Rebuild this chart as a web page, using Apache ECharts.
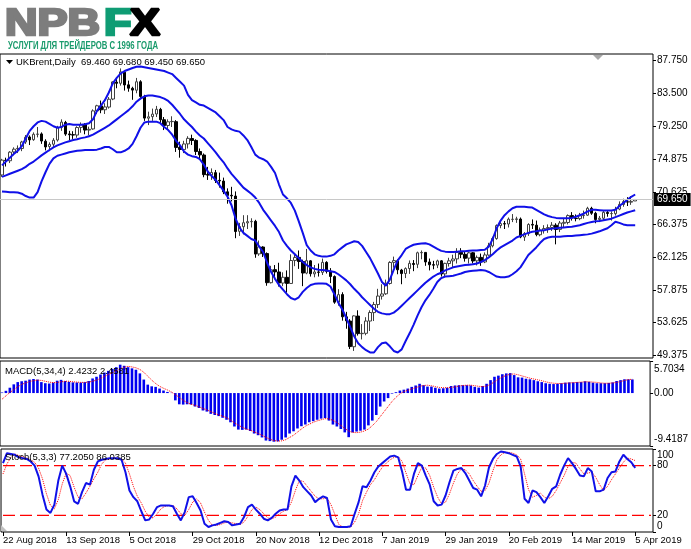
<!DOCTYPE html>
<html>
<head>
<meta charset="utf-8">
<script src="https://cdn.jsdelivr.net/npm/echarts@6/dist/echarts.min.js"></script>
<style>
html,body{margin:0;padding:0;background:#fff;}
#chart{width:691px;height:549px;}
</style>
</head>
<body>
<div id="chart"></div>
<script>
// UKBrent daily, 22 Aug 2018 .. 5 Apr 2019 (161 bars)
var opens=[72.85,74.75,74.70,75.85,76.25,76.30,77.15,77.80,77.45,78.15,
78.20,77.25,76.55,76.85,77.40,79.05,79.70,78.20,78.10,78.05,
79.05,79.40,78.70,78.85,81.20,81.85,81.35,81.70,82.75,84.95,
84.80,86.25,84.60,84.15,83.90,85.00,83.05,80.25,80.45,80.80,
81.40,80.05,79.30,79.80,79.80,76.45,76.15,76.90,77.60,77.35,
75.90,75.45,72.90,72.85,73.15,72.15,72.05,70.65,70.20,70.10,
65.50,66.10,66.60,66.75,66.80,62.55,63.45,62.60,58.80,60.50,
60.20,58.75,59.50,58.70,61.70,62.10,61.55,60.05,61.65,59.95,
60.20,60.15,61.45,60.30,59.60,56.25,57.25,54.35,53.80,50.45,
54.45,52.15,52.20,53.80,54.90,55.95,57.05,57.35,58.70,61.45,
61.65,60.45,60.00,60.65,61.30,61.20,62.70,62.75,61.50,61.15,
61.10,61.65,59.95,61.30,61.65,61.90,62.75,62.50,62.00,62.70,
61.65,62.10,61.50,62.40,63.60,64.55,66.25,66.50,66.45,67.05,
67.05,67.10,64.75,65.20,66.40,66.30,65.05,65.65,65.85,66.00,
66.30,65.75,66.55,66.65,67.55,67.20,67.15,67.55,67.60,68.50,
67.85,67.05,67.20,67.95,67.80,67.80,68.40,69.00,69.35,69.30,
69.46];
var closes=[74.78,74.73,75.82,76.21,76.31,77.14,77.77,77.42,78.15,78.17,
77.27,76.50,76.83,77.37,79.06,79.74,78.18,78.09,78.05,79.03,
79.40,78.70,78.80,81.20,81.87,81.34,81.72,82.72,84.98,84.80,
86.29,84.58,84.16,83.91,85.00,83.09,80.26,80.43,80.78,81.41,
80.05,79.29,79.78,79.83,76.44,76.17,76.89,77.62,77.34,75.91,
75.47,72.89,72.83,73.17,72.13,72.07,70.65,70.18,70.12,65.47,
66.12,66.62,66.76,66.79,62.53,63.48,62.60,58.80,60.48,60.21,
58.76,59.51,58.71,61.69,62.08,61.56,60.06,61.67,59.97,60.20,
60.15,61.45,60.28,59.61,56.26,57.24,54.35,53.82,50.47,54.47,
52.16,52.20,53.80,54.91,55.95,57.06,57.33,58.72,61.44,61.68,
60.48,59.99,60.64,61.32,61.18,62.70,62.74,61.50,61.14,61.09,
61.64,59.93,61.32,61.65,61.89,62.75,62.51,61.98,62.69,61.63,
62.10,61.51,62.42,63.61,64.57,66.25,66.50,66.45,67.08,67.07,
67.12,64.76,65.21,66.39,66.31,65.07,65.67,65.86,65.99,66.30,
65.74,66.58,66.67,67.55,67.23,67.16,67.54,67.61,68.50,67.86,
67.03,67.21,67.97,67.83,67.82,68.39,69.01,69.37,69.31,69.40,
69.65];
var lows=[72.60,73.95,74.40,75.40,75.70,75.95,76.90,76.75,77.30,77.75,
76.90,76.05,75.95,76.40,77.20,78.60,77.95,77.40,77.55,77.70,
78.35,78.15,78.00,78.75,80.80,80.90,80.80,81.50,82.60,84.15,
84.50,83.85,83.70,82.65,83.50,82.90,79.90,79.35,79.90,80.40,
79.50,78.70,78.80,79.10,75.85,75.10,75.70,76.30,76.75,75.45,
74.85,72.55,72.20,72.20,71.80,71.20,70.35,69.10,69.40,64.60,
64.90,65.10,65.80,66.00,62.05,62.30,62.15,58.40,58.70,59.25,
58.30,58.35,57.50,58.70,60.95,60.60,58.35,59.90,59.60,59.50,
59.60,59.80,60.00,58.75,56.05,55.80,53.85,52.80,50.15,49.90,
51.90,51.40,51.95,52.50,53.80,55.50,56.60,57.20,58.55,60.75,
59.90,58.60,59.40,59.95,60.30,60.70,61.85,61.00,60.40,60.55,
60.70,59.60,59.60,60.90,60.75,61.30,62.00,61.55,61.30,61.30,
61.05,61.00,61.35,62.30,63.40,64.40,65.90,65.80,66.00,66.70,
66.60,64.60,64.25,64.90,65.80,64.85,64.85,65.20,65.30,65.55,
63.80,65.40,66.05,66.40,66.90,66.80,66.95,67.15,67.50,67.65,
66.55,66.70,66.95,67.40,66.90,67.55,68.25,68.70,68.80,68.95,
69.45];
var highs=[74.95,75.10,75.95,76.45,76.70,77.30,78.05,78.00,78.40,79.10,
78.40,77.50,77.10,77.65,79.25,80.10,79.90,78.60,78.55,79.20,
79.70,79.60,79.15,81.40,82.00,82.55,82.20,83.00,85.05,85.35,
86.74,86.40,85.15,84.35,85.50,85.20,83.30,81.10,81.50,81.85,
81.60,80.40,80.10,80.50,80.00,77.20,77.30,77.90,78.10,77.50,
76.30,75.65,73.90,73.70,73.50,73.15,72.50,71.10,71.30,70.70,
66.60,67.60,67.60,67.20,67.00,64.30,63.55,62.75,61.00,61.10,
61.40,60.15,60.40,62.50,62.65,63.00,61.80,63.20,61.75,61.10,
61.30,61.95,61.60,60.70,59.75,57.95,57.55,55.00,54.05,54.55,
55.20,53.40,54.30,55.20,56.30,58.00,58.60,59.20,61.60,62.20,
61.85,60.60,60.80,61.70,61.75,62.85,63.00,62.80,61.95,61.65,
61.80,61.75,61.40,62.05,62.45,63.30,63.30,62.85,62.85,62.80,
62.35,62.60,62.75,64.00,64.80,66.40,66.85,66.85,67.30,67.75,
67.40,67.30,65.40,66.55,67.05,66.90,66.00,66.30,66.40,66.70,
66.55,66.85,67.10,67.70,68.00,67.70,67.90,68.20,68.70,68.70,
68.05,67.50,68.15,68.25,68.10,68.70,69.40,69.75,69.95,70.10,
69.68];

// Bollinger bands as drawn
var bbUpper=[74.1,74.6,75.1,75.6,76.0,76.6,77.6,78.6,79.2,79.7,
79.9,79.8,79.5,79.2,79.0,79.1,79.4,79.5,79.4,79.4,
79.4,79.45,79.6,80.1,81.2,81.9,82.6,83.6,84.8,85.5,
86.1,86.4,86.6,86.8,86.95,87.0,86.9,86.8,86.7,86.6,
86.5,86.4,86.2,86.0,85.5,85.0,84.5,83.3,82.6,82.3,
82.0,81.9,81.6,81.3,81.0,80.5,80.0,79.1,78.8,78.6,
78.5,78.0,77.4,76.5,75.5,75.1,74.9,74.6,73.9,73.1,
71.6,70.3,69.8,69.2,68.2,66.8,65.3,63.7,63.0,62.5,
62.3,62.2,62.2,62.3,62.5,63.0,63.4,63.8,64.0,64.2,
64.1,63.6,62.8,62.0,61.0,60.0,58.9,58.4,59.2,60.5,
61.7,62.4,63.2,63.5,63.75,63.85,63.9,63.95,63.8,63.5,
63.2,62.95,62.85,62.8,62.8,62.85,62.9,62.9,62.95,63.0,
63.0,63.05,63.1,63.5,64.5,65.9,66.9,67.6,68.1,68.5,
68.7,68.7,68.7,68.65,68.6,68.3,68.0,67.7,67.5,67.35,
67.25,67.2,67.2,67.2,67.25,67.4,67.6,67.8,68.1,68.3,
68.3,68.25,68.2,68.2,68.2,68.3,68.8,69.2,69.6,70.0,
70.3];
var bbMiddle=[72.6,72.8,73.0,73.2,73.4,73.6,73.9,74.3,74.6,75.0,
75.4,75.75,76.1,76.45,76.7,76.9,77.1,77.25,77.4,77.5,
77.65,77.75,77.9,78.1,78.4,78.7,79.0,79.3,79.7,80.1,
80.5,80.9,81.3,81.8,82.4,82.8,83.1,83.2,83.2,83.1,
83.0,82.8,82.5,82.0,81.4,80.8,80.1,79.6,79.1,78.5,
78.0,77.6,77.0,76.4,75.8,75.1,74.5,73.7,73.0,72.4,
71.8,71.2,70.8,70.4,69.9,69.2,68.3,67.6,66.9,66.2,
65.4,64.3,63.6,63.0,62.5,62.0,61.5,61.1,60.8,60.6,
60.5,60.45,60.4,60.3,60.2,59.9,59.5,59.1,58.6,58.0,
57.5,56.9,56.4,55.9,55.4,55.0,54.8,54.7,54.7,54.9,
55.3,55.8,56.3,56.8,57.3,57.8,58.3,58.8,59.2,59.6,
59.9,60.1,60.4,60.6,60.8,60.9,61.0,61.1,61.15,61.2,
61.3,61.5,61.75,62.1,62.5,63.0,63.4,63.7,64.0,64.3,
64.7,64.9,65.1,65.3,65.45,65.5,65.6,65.65,65.75,65.85,
65.9,65.95,66.0,66.05,66.1,66.2,66.3,66.45,66.6,66.7,
66.8,66.85,66.95,67.05,67.15,67.35,67.55,67.75,67.95,68.1,
68.25];
var bbLower=[70.7,70.65,70.6,70.6,70.55,70.4,70.1,69.9,69.9,70.6,
72.0,73.2,74.3,75.0,75.35,75.5,75.65,75.8,75.9,76.0,
76.05,76.1,76.1,76.1,76.15,76.3,76.5,76.5,76.2,75.8,
75.8,76.0,76.3,76.9,77.9,79.0,79.7,79.8,79.8,79.8,
79.6,79.1,78.7,78.1,77.3,76.7,75.9,75.5,75.3,75.2,
74.9,74.2,73.3,72.7,72.2,71.5,70.8,70.0,68.9,67.2,
66.0,65.3,64.9,64.5,64.3,63.5,62.8,61.4,60.2,59.3,
58.5,57.9,57.3,56.8,56.6,56.9,57.6,58.1,58.5,58.65,
58.7,58.7,58.65,58.3,57.3,56.2,55.3,54.2,53.0,51.8,
50.9,50.4,50.0,49.7,49.7,50.4,50.9,51.0,50.5,49.9,
49.7,50.1,51.2,52.2,53.3,54.5,55.6,56.5,57.2,58.0,
58.9,59.4,59.6,59.65,59.7,59.85,60.0,60.2,60.3,60.35,
60.4,60.45,60.4,60.2,59.9,59.6,59.5,59.5,59.6,59.9,
60.3,60.8,61.6,62.4,62.9,63.4,64.0,64.5,64.7,64.8,
64.8,64.8,64.85,64.9,64.9,64.95,65.0,65.05,65.1,65.2,
65.35,65.5,65.7,65.9,66.3,66.75,66.6,66.4,66.3,66.3,
66.3];

// MACD(5,34,4)
var macdHist=[0.1,0.4,0.95,1.55,1.95,2.1,2.2,2.4,2.5,2.4,
1.95,1.75,1.7,1.85,2.2,2.35,2.15,2.0,1.9,1.88,
1.87,1.95,2.15,2.6,2.9,3.3,3.65,3.95,4.3,4.6,
5.05,4.85,4.6,4.4,4.15,3.5,2.4,1.5,1.2,1.1,
0.8,0.45,0.2,0.05,-1.3,-2.0,-2.05,-2.0,-2.05,-2.4,
-2.65,-3.1,-3.3,-3.7,-3.9,-4.1,-4.4,-4.75,-5.2,-5.95,
-6.5,-6.55,-6.5,-6.75,-7.2,-7.5,-7.9,-8.45,-8.55,-8.65,
-8.6,-8.3,-7.9,-7.2,-6.8,-6.3,-5.9,-5.6,-5.2,-5.0,
-4.75,-4.55,-4.45,-4.9,-5.6,-5.95,-6.4,-7.0,-7.85,-7.0,
-6.85,-6.7,-6.5,-5.75,-4.9,-3.9,-2.4,-1.5,-0.9,-0.1,
0.15,0.45,0.6,0.8,1.1,1.35,1.65,1.4,1.15,1.15,
0.95,0.8,0.85,0.95,1.25,1.35,1.4,1.4,1.4,1.35,
1.1,0.97,1.25,1.65,2.3,2.9,3.1,3.35,3.5,3.55,
3.2,2.8,2.75,2.55,2.45,2.3,2.1,1.95,1.75,1.65,
1.6,1.65,1.75,1.85,1.9,1.9,1.95,1.95,2.1,2.0,
1.85,1.75,1.75,1.75,1.8,1.9,2.15,2.3,2.45,2.45,
2.4232];
var macdSignal=[-1.1,-0.5,0.1,0.6,1.1,1.55,1.8,2.05,2.2,2.3,
2.25,2.1,1.95,1.85,1.9,2.0,2.1,2.1,2.0,1.95,
1.9,1.9,1.95,2.1,2.3,2.6,2.95,3.3,3.6,3.95,
4.3,4.6,4.75,4.65,4.5,4.2,3.7,3.0,2.3,1.7,
1.2,0.85,0.55,0.2,-0.3,-0.75,-1.3,-1.7,-2.0,-2.2,
-2.45,-2.75,-3.0,-3.3,-3.6,-3.9,-4.1,-4.4,-4.8,-5.3,
-5.7,-6.1,-6.4,-6.6,-6.9,-7.2,-7.5,-7.9,-8.2,-8.45,
-8.55,-8.5,-8.3,-7.9,-7.5,-6.95,-6.4,-5.9,-5.55,-5.2,
-4.95,-4.75,-4.55,-4.6,-4.85,-5.25,-5.75,-6.3,-6.75,-7.0,
-7.05,-6.95,-6.75,-6.4,-5.8,-5.1,-4.2,-3.3,-2.4,-1.5,
-0.75,-0.15,0.25,0.5,0.75,0.95,1.2,1.35,1.4,1.3,
1.15,1.0,0.95,0.95,1.0,1.1,1.25,1.35,1.4,1.4,
1.3,1.2,1.15,1.25,1.55,2.0,2.45,2.85,3.15,3.35,
3.4,3.25,3.05,2.85,2.65,2.5,2.35,2.2,2.0,1.85,
1.75,1.7,1.7,1.75,1.8,1.85,1.9,1.95,2.0,2.0,
1.95,1.9,1.8,1.75,1.75,1.8,1.9,2.05,2.25,2.4,
2.4581];

// Stochastic(5,3,3)
var stochMain=[83,95,94,93,90,89,88,85,80,67,
45,27,23,33,62,80,70,55,37,34,
48,59,57,75,85,87,88,89,89,89,
87,72,50,42,37,25,14,15,22,30,
32,32,32,31,22,14,24,42,43,35,
26,10,6,8,9,11,13,12,8,9,
10,18,30,33,27,22,16,14,17,22,
26,27,27,55,68,62,54,49,44,36,
40,43,41,15,7,6,6,6,7,22,
36,55,54,62,72,79,83,87,91,92,
90,73,51,51,70,83,80,68,57,37,
32,33,44,60,74,76,77,71,62,53,
51,43,56,78,88,94,97,96,95,93,
91,79,40,35,50,48,42,35,43,52,
55,69,80,89,83,76,68,67,77,73,
49,49,51,65,72,73,85,93,88,84,
77.205];
var stochSignal=[70,82,90,94,92,91,89,87,84,77,
64,46,32,28,39,58,71,68,54,42,
40,47,55,64,72,82,87,88,89,89,
88,83,70,55,43,35,25,18,17,22,
28,31,32,32,28,22,20,27,36,40,
35,24,14,8,8,9,11,12,11,10,
9,12,19,27,30,27,22,17,16,18,
22,25,27,36,50,62,61,55,49,43,
40,40,41,33,21,9,6,6,6,12,
22,38,48,57,63,71,78,83,87,90,
91,85,71,58,57,68,78,77,68,54,
42,34,36,46,59,70,76,75,70,62,
55,49,50,59,74,87,93,96,96,95,
93,88,70,51,42,44,47,42,40,43,
50,59,68,79,84,83,76,70,71,72,
66,57,50,55,63,70,77,84,89,88,
86.0385];

var priceTicks=[87.750,83.500,79.250,74.875,70.625,66.375,62.125,57.875,53.625,49.375];
var macdTicks=[5.7034,0,-9.4187];
var stochTicks=[100,80,20,0];
var stochLevels=[80,20];
var dateTicks=['22 Aug 2018','13 Sep 2018','5 Oct 2018','29 Oct 2018','20 Nov 2018','12 Dec 2018','7 Jan 2019','29 Jan 2019','20 Feb 2019','14 Mar 2019','5 Apr 2019'];
var dateStep=16;
var lastPrice=69.65;

var FONT='Liberation Sans';
var BLUE='#1010e8';
var RED='#ff0000';
var SLOTS=165; // bars plus the empty shift on the right
var cats=[];
for(var i=0;i<SLOTS;i++){cats.push(String(i));}
var candles=[];
for(var i=0;i<opens.length;i++){
  candles.push([opens[i],closes[i],lows[i],highs[i]]);
}

function isDateTick(i){ return i%dateStep===0 && i/dateStep<dateTicks.length; }

// squeeze/stretch logo texts to the widths they have in the picture
var measureCtx=document.createElement('canvas').getContext('2d');
function fitScale(text,font,width){
  measureCtx.font=font;
  return width/measureCtx.measureText(text).width;
}
var LOGO_FONT='bold 36px "Liberation Sans"';
var TAG_FONT='bold 10px "Liberation Sans"';
var TAG_TEXT='УСЛУГИ ДЛЯ ТРЕЙДЕРОВ С 1996 ГОДА';
var logoScale=fitScale('NPB',LOGO_FONT,95);
var tagScale=fitScale(TAG_TEXT,TAG_FONT,150);

function hiddenX(g){
  return {type:'category',gridIndex:g,data:cats,boundaryGap:true,
    axisLine:{show:false},axisTick:{show:false},axisLabel:{show:false},splitLine:{show:false}};
}

// horizontal level lines of the stochastic window
var levelSeries=stochLevels.map(function(v){
  return {type:'line',xAxisIndex:2,yAxisIndex:2,symbol:'none',silent:true,z:2,
    data:cats.map(function(){return v;}),
    lineStyle:{color:RED,width:1.3,type:[12,5]}};
});

var xFx=new echarts.graphic.LinearGradient(0,1,1,0,[
  {offset:0,color:'#0f9c74'},{offset:0.42,color:'#0f9c74'},
  {offset:0.42,color:'#f39a26'},{offset:1,color:'#f39a26'}]);

var chart=echarts.init(document.getElementById('chart'));
var option={
  animation:false,
  backgroundColor:'#fff',
  grid:[
    {left:0,right:38,top:54,height:304,show:true,borderColor:'#000',borderWidth:1},
    {left:0,right:38,top:361,height:85,show:true,borderColor:'#000',borderWidth:1},
    {left:0,right:38,top:449,height:83,show:true,borderColor:'#000',borderWidth:1}
  ],
  xAxis:[
    hiddenX(0),
    hiddenX(1),
    {type:'category',gridIndex:2,data:cats,boundaryGap:true,
     axisLine:{show:false},
     axisTick:{show:true,alignWithLabel:true,length:4,lineStyle:{color:'#000'},
       interval:function(i){return isDateTick(i);}},
     axisLabel:{show:true,align:'left',margin:3,fontSize:9.5,color:'#000',fontFamily:FONT,
       interval:function(i){return isDateTick(i);},
       formatter:function(v){var i=parseInt(v,10);return isDateTick(i)?dateTicks[i/dateStep]:'';}},
     splitLine:{show:false}}
  ],
  yAxis:[
    {type:'value',gridIndex:0,position:'right',min:48.98,max:88.62,
     splitLine:{show:false},axisLine:{show:false},
     axisTick:{show:true,length:3,customValues:priceTicks,lineStyle:{color:'#000'}},
     axisLabel:{customValues:priceTicks,margin:4,fontSize:10,color:'#000',fontFamily:FONT,
       formatter:function(v){return v.toFixed(3);}}},
    {type:'value',gridIndex:1,position:'right',min:-9.4187,max:5.7034,
     splitLine:{show:false},axisLine:{show:false},
     axisTick:{show:true,length:3,customValues:macdTicks,lineStyle:{color:'#000'}},
     axisLabel:{customValues:macdTicks,margin:4,fontSize:10,color:'#000',fontFamily:FONT,
       formatter:function(v){
         if(v>1) return '{t|5.7034}';
         if(v<-1) return '{b|-9.4187}';
         return '0.00';
       },
       rich:{t:{padding:[16,0,0,0],fontSize:10,fontFamily:FONT,color:'#000'},
             b:{padding:[0,0,14,0],fontSize:10,fontFamily:FONT,color:'#000'}}}},
    {type:'value',gridIndex:2,position:'right',min:0,max:100,
     splitLine:{show:false},axisLine:{show:false},
     axisTick:{show:true,length:3,customValues:stochTicks,lineStyle:{color:'#000'}},
     axisLabel:{customValues:stochTicks,margin:4,fontSize:10,color:'#000',fontFamily:FONT,
       formatter:function(v){
         if(v===100) return '{t|100}';
         if(v===0) return '{b|0}';
         return String(v);
       },
       rich:{t:{padding:[12,0,0,0],fontSize:10,fontFamily:FONT,color:'#000'},
             b:{padding:[0,0,12,0],fontSize:10,fontFamily:FONT,color:'#000'}}}}
  ],
  series:[
    {type:'candlestick',xAxisIndex:0,yAxisIndex:0,data:candles,barWidth:3,
     itemStyle:{color:'#ffffff',color0:'#000000',borderColor:'#404040',borderColor0:'#000000',borderWidth:1},
     markLine:{silent:true,symbol:['none','none'],
       lineStyle:{color:'#c8c8c8',width:1,type:'solid'},
       label:{show:true,position:'end',distance:1,formatter:lastPrice.toFixed(3),
         color:'#fff',backgroundColor:'#000',padding:[2,3,1,3],fontSize:10,fontFamily:FONT},
       data:[{yAxis:lastPrice}]},
     z:3},
    {type:'line',xAxisIndex:0,yAxisIndex:0,data:bbUpper,symbol:'none',lineStyle:{color:BLUE,width:2},z:4},
    {type:'line',xAxisIndex:0,yAxisIndex:0,data:bbMiddle,symbol:'none',lineStyle:{color:BLUE,width:2},z:4},
    {type:'line',xAxisIndex:0,yAxisIndex:0,data:bbLower,symbol:'none',lineStyle:{color:BLUE,width:2},z:4},
    {type:'bar',xAxisIndex:1,yAxisIndex:1,data:macdHist,barWidth:'66%',itemStyle:{color:'#0000f0'}},
    {type:'line',xAxisIndex:1,yAxisIndex:1,data:macdSignal,symbol:'none',
     lineStyle:{color:RED,width:1,type:'dotted'},z:4},
    {type:'line',xAxisIndex:2,yAxisIndex:2,data:stochSignal,symbol:'none',
     lineStyle:{color:RED,width:1,type:'dotted'},z:3},
    {type:'line',xAxisIndex:2,yAxisIndex:2,data:stochMain,symbol:'none',
     lineStyle:{color:BLUE,width:2},z:4}
  ].concat(levelSeries),
  graphic:[
    {type:'text',x:5,y:25,scaleX:logoScale,z:100,
     style:{x:0,y:0,text:'NPB',font:LOGO_FONT,fill:'#7d7d7d',stroke:'#7d7d7d',lineWidth:2.5,lineJoin:'miter',verticalAlign:'middle'}},
    {type:'text',x:104,y:25,scaleX:logoScale,z:100,
     style:{x:0,y:0,text:'F',font:LOGO_FONT,fill:'#0f9c74',stroke:'#0f9c74',lineWidth:2.5,lineJoin:'miter',verticalAlign:'middle'}},
    {type:'text',x:130,y:25,scaleX:logoScale,z:100,
     style:{x:0,y:0,text:'X',font:LOGO_FONT,lineWidth:2.5,lineJoin:'miter',verticalAlign:'middle',fill:xFx,stroke:xFx}},
    {type:'text',x:8,y:46,scaleX:tagScale,z:100,
     style:{x:0,y:0,text:TAG_TEXT,font:TAG_FONT,fill:'#1a9b6c',verticalAlign:'middle'}},
    {type:'polygon',z:100,shape:{points:[[6,60],[13,60],[9.5,64]]},style:{fill:'#000'}},
    {type:'text',x:16,y:62,z:100,style:{text:'UKBrent,Daily  69.460 69.680 69.450 69.650',font:'9.5px "Liberation Sans"',fill:'#000',verticalAlign:'middle'}},
    {type:'polygon',z:100,shape:{points:[[593,55],[603,55],[598,60]]},style:{fill:'#a8a8a8'}},
    {type:'text',x:5,y:371,z:100,style:{text:'MACD(5,34,4) 2.4232 2.4581',font:'9.5px "Liberation Sans"',fill:'#000',verticalAlign:'middle'}},
    {type:'text',x:5,y:457,z:100,style:{text:'Stoch(5,3,3) 77.2050 86.0385',font:'9.5px "Liberation Sans"',fill:'#000',verticalAlign:'middle'}},
    {type:'polygon',z:100,shape:{points:[[1,525],[1,531],[7,531]]},style:{fill:'#c0c0c0'}}
  ]
};
chart.setOption(option);
</script>
</body>
</html>
